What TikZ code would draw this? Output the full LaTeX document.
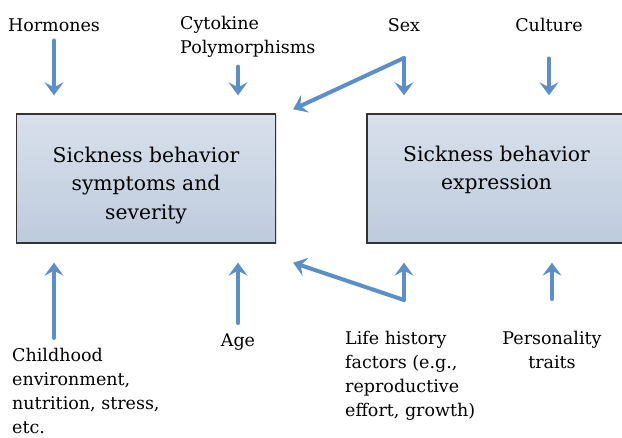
\documentclass[tikz,border=0pt]{standalone}
\usepackage{fontspec}
\setmainfont{DejaVu Serif}
\usetikzlibrary{arrows.meta,shadows}
\definecolor{arrblue}{RGB}{92,143,202}
\definecolor{boxtop}{RGB}{216,224,235}
\definecolor{boxbot}{RGB}{190,203,221}

\begin{document}
\begin{tikzpicture}[x=1pt,y=-1pt,
 arr/.style={arrblue,line width=4pt,line cap=round,line join=round,-{Stealth[length=13pt,width=19pt,inset=5pt]}},
 box/.style={draw=black!80,line width=1.4pt,top color=boxtop,bottom color=boxbot,
  minimum width=259pt,minimum height=129pt,align=center,
  font=\fontsize{20.3}{28.5}\selectfont,drop shadow={opacity=0.25,shadow xshift=1.5pt,shadow yshift=-1.5pt}},
 lab/.style={inner sep=0pt,font=\fontsize{17.5}{24}\selectfont}]
\useasboundingbox (0,0) rectangle (622,438);
% boxes
\node[box] (sbs) at (146,178.5) {\rule{0pt}{29pt}Sickness behavior\\symptoms and\\severity};
\node[box] (sbe) at (496.5,178.5) {Sickness behavior\\expression\rule[-21pt]{0pt}{0pt}};
% labels on top
\node[lab,anchor=base] (horm) at (54,32) {Hormones};
\node[lab,anchor=north west,align=left] (cyto) at (180,16) {Cytokine\\Polymorphisms};
\node[lab,anchor=base] (sex) at (404,32) {Sex};
\node[lab,anchor=base] (cult) at (549,32) {Culture};
% labels below
\node[lab,anchor=north west,align=left] (child) at (12,348) {Childhood\\environment,\\nutrition, stress,\\etc.};
\node[lab,anchor=base] (age) at (238,347) {Age};
\node[lab,anchor=north west,align=left] (life) at (345,331) {Life history\\factors (e.g.,\\reproductive\\effort, growth)};
\node[lab,anchor=north,align=center] (pers) at (552,331) {Personality\\traits};
\coordinate (sexk) at (404,58);
\coordinate (lifek) at (404,300);
% arrows
\draw[arr,shorten <=8pt,shorten >=18pt] (horm.south) -- (horm.south |- sbs.north);
\draw[arr,shorten <=9pt,shorten >=18pt] (cyto.south -| 238,0) -- (238,0 |- sbs.north);
\draw[arr,shorten >=18pt] (sexk) -- (sexk |- sbe.north);
\draw[arr] (sexk) -- ([shift={(17,-4)}]sbs.north east);
\draw[arr,shorten <=26pt,shorten >=18pt] (cult.south) -- (cult.south |- sbe.north);
\draw[arr,shorten <=10pt,shorten >=19pt] (child.north -| horm.south) -- (horm.south |- sbs.south);
\draw[arr,shorten <=11pt,shorten >=19pt] (age.north) -- (age.north |- sbs.south);
\draw[arr,shorten >=19pt] (lifek) -- (lifek |- sbe.south);
\draw[arr] (lifek) -- ([shift={(17,19)}]sbs.south east);
\draw[arr,shorten <=32pt,shorten >=19pt] (pers.north) -- (pers.north |- sbe.south);
\end{tikzpicture}
\end{document}
